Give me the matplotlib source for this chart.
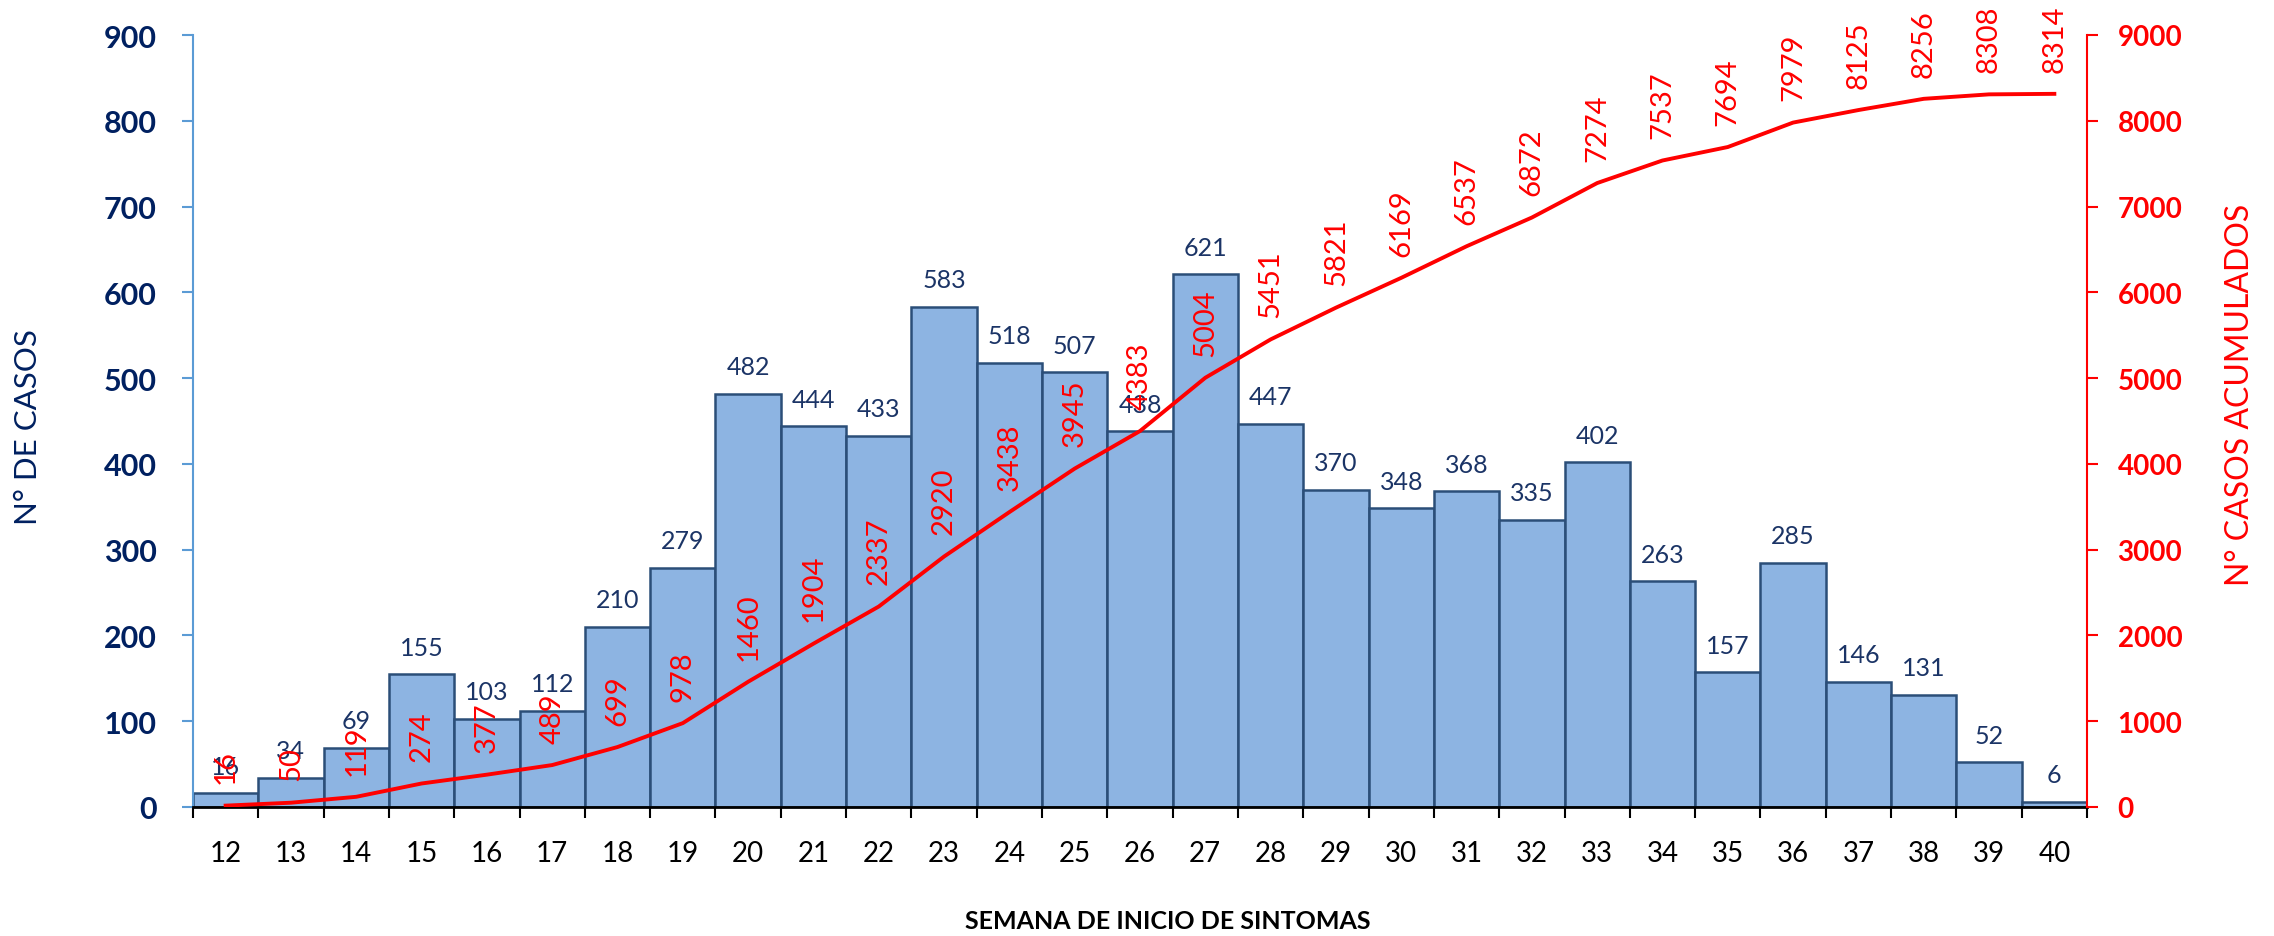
import numpy as np
import matplotlib
matplotlib.use("Agg")
import matplotlib.pyplot as plt

# semana epidemiologica de inicio de sintomas
semanas = list(range(12, 41))
casos = [16, 34, 69, 155, 103, 112, 210, 279, 482, 444, 433, 583, 518, 507, 438,
         621, 447, 370, 348, 368, 335, 402, 263, 157, 285, 146, 131, 52, 6]
acumulados = [16, 50, 119, 274, 377, 489, 699, 978, 1460, 1904, 2337, 2920, 3438,
              3945, 4383, 5004, 5451, 5821, 6169, 6537, 6872, 7274, 7537, 7694,
              7979, 8125, 8256, 8308, 8314]
y_ticks = list(range(0, 901, 100))
y2_ticks = list(range(0, 9001, 1000))

plt.rcParams['font.family'] = ['Lato', 'DejaVu Sans']

navy = '#002060'
red = '#FF0000'

fig = plt.figure(figsize=(22.74, 9.37), dpi=100)
ax = fig.add_axes([193/2274, 1-808/937, (2087-193)/2274, (808-36)/937])
ax2 = ax.twinx()

x = np.arange(len(semanas))
ax.bar(x, casos, width=1.0, color='#8DB4E2', edgecolor='#2B4E78', linewidth=1.8, zorder=2)
for xi, v in zip(x, casos):
    ax.annotate(str(v), (xi, v), xytext=(0, 14), textcoords='offset points',
                ha='center', va='baseline', fontsize=18, color='#1B3466', zorder=3)

ax2.plot(x, acumulados, color=red, linewidth=2.8, zorder=4)
for xi, v in zip(x, acumulados):
    ax2.annotate(str(v), (xi, v), xytext=(0, 16), textcoords='offset points',
                 ha='center', va='bottom', rotation=90, fontsize=21, color=red)

ax.set_xlim(-0.5, len(semanas) - 0.5)
ax.set_ylim(0, 900)
ax2.set_ylim(0, 9000)

ax.set_yticks(y_ticks)
ax.set_yticklabels([str(t) for t in y_ticks], fontsize=22, fontweight='bold', color=navy)
ax.tick_params(axis='y', direction='out', length=8, width=1.5, color='#5B9BD5', pad=18)
ax2.set_yticks(y2_ticks)
ax2.set_yticklabels([str(t) for t in y2_ticks], fontsize=20, fontweight='bold', color=red)
ax2.tick_params(axis='y', direction='out', length=8, width=1.5, color=red, pad=14)

ax.set_xticks(x)
ax.set_xticklabels([str(s) for s in semanas], fontsize=20, color='black')
ax.set_xticks(np.arange(len(semanas) + 1) - 0.5, minor=True)
ax.tick_params(axis='x', which='major', length=0, pad=24)
ax.tick_params(axis='x', which='minor', direction='out', length=8, width=1.5, color='black')

for s in ['top', 'right']:
    ax.spines[s].set_visible(False)
for s in ['top', 'left', 'bottom']:
    ax2.spines[s].set_visible(False)
ax.spines['left'].set_color('#5B9BD5')
ax.spines['left'].set_linewidth(1.5)
ax.spines['bottom'].set_color('black')
ax.spines['bottom'].set_linewidth(2)
ax.spines['bottom'].set_zorder(5)
ax2.spines['right'].set_color(red)
ax2.spines['right'].set_linewidth(1.5)

fig.text(28/2274, 1-427/937, 'N° DE CASOS', rotation=90, ha='center', va='center',
         fontsize=22.5, color=navy)
fig.text(2240/2274, 1-395/937, 'N° CASOS ACUMULADOS', rotation=90, ha='center', va='center',
         fontsize=23, color=red)
fig.text(1168/2274, 1-922/937, 'SEMANA DE INICIO DE SINTOMAS', ha='center', va='center',
         fontsize=18, fontweight='bold', color='black')

fig.savefig('out.png', dpi=100)
